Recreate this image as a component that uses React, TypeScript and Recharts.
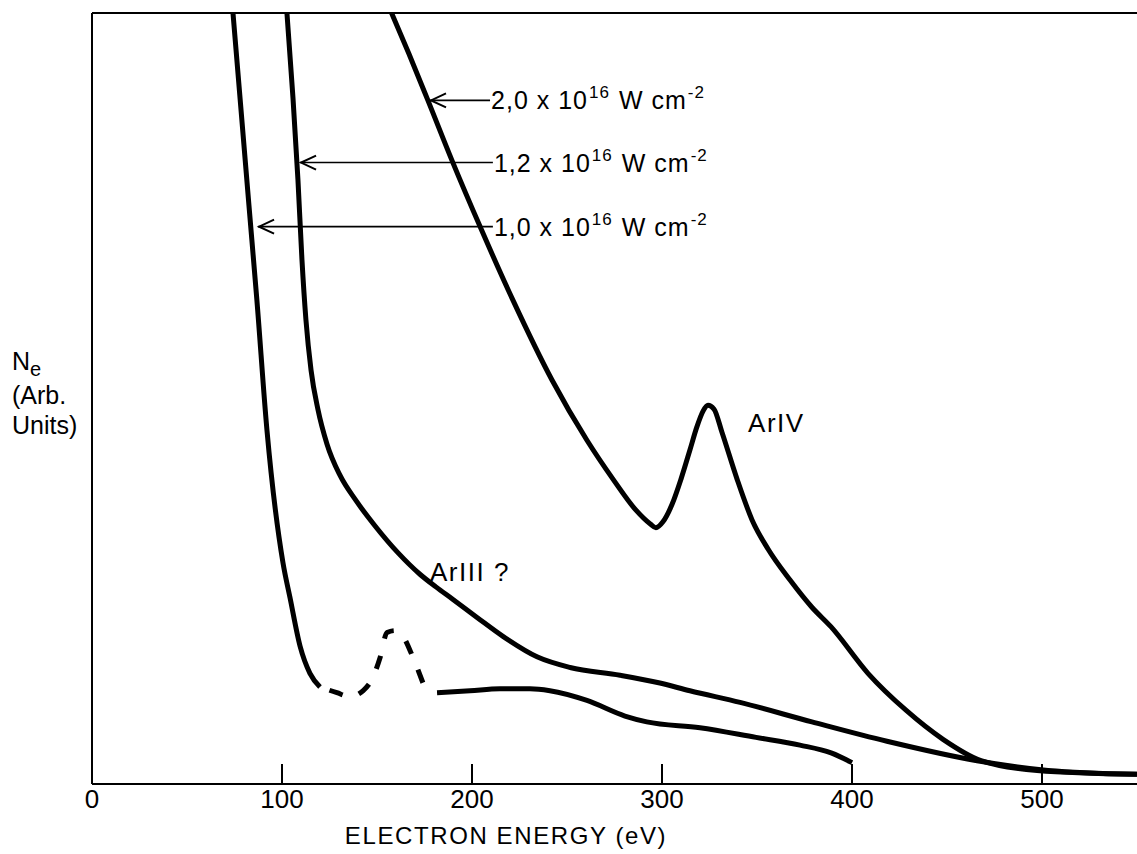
import { LineChart, Line, XAxis, YAxis, ReferenceLine, ReferenceDot } from 'recharts';

const FONT = '"Liberation Sans", Arial, sans-serif';

// 1,0 x 10^16 W cm^-2 (three pieces: solid, dashed bump, solid tail)
const energyA1 = [74.2, 82.6, 86.8, 92.1, 100.5, 104.2, 109.5, 114.7, 120];
const countsA1 = [3.97, 2.98, 2.49, 1.82, 1.14, 0.96, 0.71, 0.57, 0.5];
const energyA2 = [120, 128.9, 135.8, 142.6, 147.9, 151.6, 155.3, 159.5, 163.7, 169, 174.2];
const countsA2 = [0.5, 0.47, 0.45, 0.48, 0.55, 0.65, 0.78, 0.79, 0.76, 0.65, 0.52];
const energyA3 = [181.6, 199, 214.7, 230.5, 241, 260.5, 280.5, 292, 320, 349.5, 372.6, 389, 400];
const countsA3 = [0.47, 0.48, 0.49, 0.49, 0.48, 0.43, 0.35, 0.32, 0.29, 0.24, 0.2, 0.16, 0.11];

// 1,2 x 10^16 W cm^-2
const energyB = [102.6, 105.8, 108.4, 110.5, 112.6, 115.3, 118.9, 123.7, 130.5, 138.9, 148.9, 161.1, 172.6, 181, 190, 203, 216.3, 234.2, 251.6, 277.9, 298.9, 314.7, 341.1, 378.9, 418.4, 465.8, 503.2, 550];
const countsB = [3.97, 3.53, 3.11, 2.7, 2.39, 2.13, 1.93, 1.75, 1.59, 1.46, 1.33, 1.19, 1.08, 1.015, 0.95, 0.855, 0.76, 0.655, 0.6, 0.56, 0.52, 0.48, 0.42, 0.32, 0.22, 0.12, 0.07, 0.05];

// 2,0 x 10^16 W cm^-2
const energyC = [156.8, 166.8, 176.8, 189.5, 204.7, 221.6, 242.1, 260.5, 274.2, 286.3, 293.7, 296.8, 300.5, 305.3, 310, 314.7, 318.4, 321.6, 324.2, 327.4, 331.6, 339.5, 347.4, 355.8, 367.4, 378.9, 388.9, 408.4, 428.4, 447.9, 467.9, 497.4, 550];
const countsC = [3.99, 3.76, 3.52, 3.21, 2.86, 2.49, 2.08, 1.77, 1.57, 1.41, 1.34, 1.32, 1.35, 1.44, 1.57, 1.72, 1.84, 1.92, 1.95, 1.93, 1.81, 1.57, 1.36, 1.21, 1.05, 0.91, 0.81, 0.57, 0.38, 0.23, 0.12, 0.07, 0.05];

const xTicks = [0, 100, 200, 300, 400, 500];
const yTicks = [1, 2, 3];
const Y_MAX = 3.97;

// arrow labels: tip energy, level, where the text starts
const arrowLabels = ['2,0', '1,2', '1,0'];
const arrowTips = [177.9, 109.5, 87.4];
const arrowLevels = [3.52, 3.2, 2.87];
const arrowTextAt = [209.5, 211, 211];

const toPoints = (xs: number[], ys: number[]) => xs.map((x, i) => ({ x, y: ys[i] }));

const seriesA1 = toPoints(energyA1, countsA1);
const seriesA2 = toPoints(energyA2, countsA2);
const seriesA3 = toPoints(energyA3, countsA3);
const seriesB = toPoints(energyB, countsB);
const seriesC = toPoints(energyC, countsC);

const ArrowShape = (label: string) => (props: any) => {
  const { x1, y1, x2, y2 } = props;
  const left = Math.min(x1, x2);
  const right = Math.max(x1, x2);
  return (
    <g>
      <line x1={left} y1={y1} x2={right} y2={y2} stroke="#000" strokeWidth={1.6} />
      <polyline points={`${left + 16},${y1 - 7} ${left + 1},${y1} ${left + 16},${y1 + 7}`} fill="none" stroke="#000" strokeWidth={2} />
      <text x={right + 1} y={y1 + 9} fontFamily={FONT} fontSize={25} fill="#000" letterSpacing={1}>
        <tspan>{label} x 10</tspan>
        <tspan dx={1} dy={-11} fontSize={17}>16</tspan>
        <tspan dx={9} dy={11}>W cm</tspan>
        <tspan dx={1} dy={-11} fontSize={17}>-2</tspan>
      </text>
    </g>
  );
};

const TextShape = (label: string) => (props: any) => (
  <text x={props.cx} y={props.cy} dominantBaseline="middle" fontFamily={FONT} fontSize={26} fill="#000" letterSpacing={1.5}>
    {label}
  </text>
);

const YLabel = (props: any) => {
  const { viewBox } = props;
  const cy = viewBox.y + viewBox.height / 2;
  return (
    <text fontFamily={FONT} fontSize={25} fill="#000">
      <tspan x={12} y={cy - 29}>N</tspan>
      <tspan dy={6} fontSize={20}>e</tspan>
      <tspan x={12} y={cy + 5}>(Arb.</tspan>
      <tspan x={12} y={cy + 35}>Units)</tspan>
    </text>
  );
};

const XLabel = (props: any) => {
  const { viewBox } = props;
  return (
    <text x={viewBox.x + 414} y={viewBox.y + 60} textAnchor="middle" fontFamily={FONT} fontSize={24} letterSpacing={1.6} fill="#000">
      ELECTRON ENERGY (eV)
    </text>
  );
};

export default function App() {
  return (
    <div style={{ position: 'absolute', left: 0, top: 0, background: '#fff' }}>
      <LineChart width={1137} height={854} margin={{ top: 13, right: 0, bottom: 0, left: 0 }}>
        <XAxis
          dataKey="x"
          type="number"
          domain={[0, 550]}
          ticks={xTicks}
          interval={0}
          allowDataOverflow
          height={70}
          tickSize={-20}
          tickMargin={26}
          axisLine={{ stroke: '#000', strokeWidth: 2 }}
          tickLine={{ stroke: '#000', strokeWidth: 2 }}
          tick={{ fill: '#000', fontSize: 26, fontFamily: FONT }}
          label={{ content: XLabel }}
        />
        <YAxis
          dataKey="y"
          type="number"
          domain={[0, Y_MAX]}
          ticks={yTicks}
          allowDataOverflow
          width={92}
          tickSize={-20}
          tick={false}
          axisLine={{ stroke: '#000', strokeWidth: 2 }}
          tickLine={{ stroke: '#000', strokeWidth: 2 }}
          label={{ content: YLabel }}
        />
        <ReferenceLine y={Y_MAX} stroke="#000" strokeWidth={2} />
        <Line data={seriesA1} dataKey="y" type="monotone" stroke="#000" strokeWidth={5} dot={false} isAnimationActive={false} />
        <Line data={seriesA2} dataKey="y" type="monotone" stroke="#000" strokeWidth={5} strokeDasharray="0 10 14 7" dot={false} isAnimationActive={false} />
        <Line data={seriesA3} dataKey="y" type="monotone" stroke="#000" strokeWidth={5} dot={false} isAnimationActive={false} />
        <Line data={seriesB} dataKey="y" type="monotone" stroke="#000" strokeWidth={5} dot={false} isAnimationActive={false} />
        <Line data={seriesC} dataKey="y" type="monotone" stroke="#000" strokeWidth={5} dot={false} isAnimationActive={false} />
        {arrowLabels.map((label, i) => (
          <ReferenceLine
            key={label}
            segment={[{ x: arrowTips[i], y: arrowLevels[i] }, { x: arrowTextAt[i], y: arrowLevels[i] }]}
            shape={ArrowShape(label)}
          />
        ))}
        <ReferenceDot x={345.3} y={1.85} r={1} shape={TextShape('ArIV')} />
        <ReferenceDot x={177.9} y={1.08} r={1} shape={TextShape('ArIII ?')} />
      </LineChart>
    </div>
  );
}
